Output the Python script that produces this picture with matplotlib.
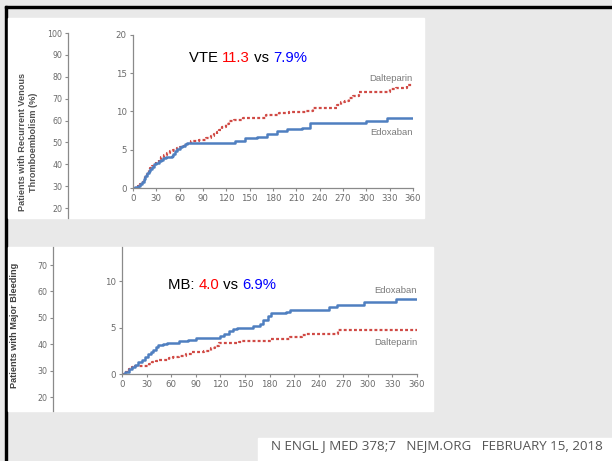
import matplotlib.pyplot as plt
from matplotlib.patches import Rectangle

# VTE panel (days, cumulative %)
vte_edox_days = [0, 3, 6, 9, 12, 14, 16, 18, 20, 22, 24, 27, 30, 33, 36, 39, 42, 46, 50, 52, 54,
                 57, 60, 63, 67, 70, 131, 144, 159, 172, 185, 198, 217, 228, 300, 326, 360]
vte_edox_vals = [0, 0.1, 0.3, 0.5, 0.8, 1.2, 1.6, 1.9, 2.2, 2.5, 2.8, 3.1, 3.3, 3.5, 3.7, 3.9, 4.0, 4.1, 4.2, 4.5, 4.9,
                 5.1, 5.3, 5.5, 5.7, 5.9, 6.2, 6.5, 6.7, 7.1, 7.4, 7.7, 7.9, 8.5, 8.8, 9.2, 9.2]
vte_dalt_days = [0, 3, 6, 9, 12, 14, 16, 18, 20, 22, 24, 27, 30, 33, 36, 40, 44, 48, 52, 56, 60,
                 64, 68, 72, 75, 85, 94, 100, 104, 108, 111, 115, 119, 124, 130, 141, 171, 188, 200,
                 223, 232, 240, 262, 268, 272, 278, 283, 291, 330, 338, 352, 360]
vte_dalt_vals = [0, 0.1, 0.3, 0.5, 0.8, 1.2, 1.6, 2.0, 2.3, 2.6, 2.9, 3.2, 3.4, 3.7, 4.0, 4.3, 4.6, 4.9, 5.0, 5.2, 5.3,
                 5.5, 5.7, 5.9, 6.1, 6.3, 6.5, 6.8, 7.0, 7.3, 7.6, 8.0, 8.4, 8.7, 8.9, 9.2, 9.5, 9.85, 9.9,
                 10.1, 10.4, 10.5, 10.9, 11.2, 11.4, 11.7, 12.0, 12.5, 13.0, 13.1, 13.5, 13.5]

# major bleeding panel
mb_edox_days = [0, 4, 8, 12, 16, 20, 24, 28, 32, 35, 38, 41, 44, 50, 55, 70, 80, 90, 120, 125, 130,
                135, 140, 160, 168, 172, 178, 182, 200, 205, 253, 257, 262, 295, 334, 360]
mb_edox_vals = [0, 0.2, 0.5, 0.8, 1.0, 1.3, 1.5, 1.8, 2.1, 2.4, 2.6, 2.9, 3.1, 3.2, 3.35, 3.6, 3.7, 3.9, 4.1, 4.3, 4.6,
                4.8, 5.0, 5.2, 5.4, 5.8, 6.2, 6.6, 6.7, 6.85, 7.2, 7.2, 7.45, 7.75, 8.1, 8.1]
mb_dalt_days = [0, 4, 8, 12, 16, 20, 33, 37, 42, 45, 57, 62, 70, 78, 85, 100, 108, 113, 118, 143, 147,
                182, 205, 220, 225, 264, 360]
mb_dalt_vals = [0, 0.2, 0.5, 0.7, 0.85, 0.9, 1.1, 1.3, 1.45, 1.55, 1.7, 1.8, 1.9, 2.1, 2.35, 2.45, 2.75, 3.0, 3.3, 3.4, 3.6,
                3.8, 4.0, 4.2, 4.35, 4.7, 4.7]

x_ticks = list(range(0, 361, 30))
old_vte_ticks = [20, 30, 40, 50, 60, 70, 80, 90, 100]
old_mb_ticks = [20, 30, 40, 50, 60, 70]

W, H = 612, 461
RED = '#d04a45'
BLUE = '#4f7fc0'
GREY = '#6a6a6a'
FONT = 'Liberation Sans'


def fx(px):
    return px / W


def fy(py):
    return 1 - py / H


def rect(fig, x0, y0, x1, y1, color):
    fig.patches.append(Rectangle((fx(x0), fy(y1)), fx(x1) - fx(x0), fy(y0) - fy(y1),
                                 transform=fig.transFigure, color=color, zorder=-10))


def style_axis(ax):
    for s in ['top', 'right']:
        ax.spines[s].set_visible(False)
    for s in ['left', 'bottom']:
        ax.spines[s].set_color('#8a8a8a')
        ax.spines[s].set_linewidth(0.9)
    ax.tick_params(labelsize=6.2, colors='#8a8a8a', labelcolor=GREY, length=2.5, width=0.8, pad=2)
    ax.patch.set_alpha(0)


def old_axis(fig, x, top, bottom, lo, hi, ticks):
    # leftover axis from the original figure, cut off by the panel
    ax = fig.add_axes([fx(x), fy(bottom), 0.0005, fy(top) - fy(bottom)])
    ax.set_ylim(lo, hi)
    ax.set_yticks(ticks)
    ax.set_xticks([])
    for s in ['top', 'right', 'bottom']:
        ax.spines[s].set_visible(False)
    ax.spines['left'].set_color('#8a8a8a')
    ax.spines['left'].set_linewidth(0.9)
    ax.tick_params(labelsize=5.7, colors='#8a8a8a', labelcolor=GREY, length=2.5, width=0.8, pad=1.5)
    ax.patch.set_alpha(0)
    return ax


def headline(fig, ax, x, y, parts):
    prev = fig.text(x, y, parts[0][0], color=parts[0][1], fontsize=10.7,
                    family=FONT, va='bottom', ha='left')
    for txt, col in parts[1:]:
        prev = ax.annotate(txt, xy=(1, 0), xycoords=prev, color=col, fontsize=10.7,
                           family=FONT, va='bottom', ha='left', annotation_clip=False)


fig = plt.figure(figsize=(W / 100, H / 100), dpi=100, facecolor='#e9e9e9')

# slide frame and white panels
rect(fig, 5, 6, 612, 8, 'black')
rect(fig, 5, 6, 7, 461, 'black')
rect(fig, 8, 18, 424, 218, 'white')
rect(fig, 8, 247, 433, 411, 'white')
rect(fig, 258, 438, 612, 461, 'white')

# ---- top panel: VTE ----
old_axis(fig, 68, 33, 218, 20 - 10 / 2.1875, 100, old_vte_ticks)
fig.text(fx(28), fy(142), 'Patients with Recurrent Venous\nThromboembolism (%)', rotation=90,
         ha='center', va='center', fontsize=6.6, fontweight='bold', color='#505050',
         family=FONT, linespacing=1.3)

ax1 = fig.add_axes([fx(133), fy(188), fx(413) - fx(133), fy(35) - fy(188)])
ax1.plot(vte_dalt_days, vte_dalt_vals, drawstyle='steps-post', color=RED, lw=1.6,
         linestyle=(0, (1.3, 1.0)))
ax1.plot(vte_edox_days, vte_edox_vals, drawstyle='steps-post', color=BLUE, lw=1.8)
ax1.set_xlim(0, 360)
ax1.set_ylim(0, 20)
ax1.set_xticks(x_ticks)
ax1.set_yticks([0, 5, 10, 15, 20])
style_axis(ax1)
ax1.text(360, 14.25, 'Dalteparin', ha='right', va='center', fontsize=6.8, color='#7a7a7a', family=FONT)
ax1.text(360, 7.2, 'Edoxaban', ha='right', va='center', fontsize=6.8, color='#7a7a7a', family=FONT)
headline(fig, ax1, fx(189), fy(65.5), [('VTE ', 'black'), ('11.3', 'red'), (' vs ', 'black'), ('7.9%', 'blue')])

# ---- bottom panel: major bleeding ----
old_axis(fig, 53, 247, 411, 20 - 14 / 2.64, 70 + 18 / 2.64, old_mb_ticks)
fig.text(fx(15), fy(325), 'Patients with Major Bleeding', rotation=90, ha='center', va='center',
         fontsize=6.6, fontweight='bold', color='#404040', family=FONT)

ax2 = fig.add_axes([fx(122), fy(374), fx(417) - fx(122), fy(247) - fy(374)])
ax2.plot(mb_dalt_days, mb_dalt_vals, drawstyle='steps-post', color=RED, lw=1.6,
         linestyle=(0, (1.3, 1.0)))
ax2.plot(mb_edox_days, mb_edox_vals, drawstyle='steps-post', color=BLUE, lw=1.8)
ax2.set_xlim(0, 360)
ax2.set_ylim(0, 127 / 9.3)
ax2.set_xticks(x_ticks)
ax2.set_yticks([0, 5, 10])
style_axis(ax2)
ax2.text(360, 9.03, 'Edoxaban', ha='right', va='center', fontsize=6.8, color='#7a7a7a', family=FONT)
ax2.text(360, 3.44, 'Dalteparin', ha='right', va='center', fontsize=6.8, color='#7a7a7a', family=FONT)
headline(fig, ax2, fx(168), fy(292), [('MB: ', 'black'), ('4.0', 'red'), (' vs ', 'black'), ('6.9%', 'blue')])

# journal footer
fig.text(fx(271), fy(445.5), 'N ENGL J MED 378;7   NEJM.ORG   FEBRUARY 15, 2018', ha='left',
         va='center', fontsize=9.6, color='#555555', family='Open Sans')

fig.savefig('out.png', dpi=100, facecolor=fig.get_facecolor())
